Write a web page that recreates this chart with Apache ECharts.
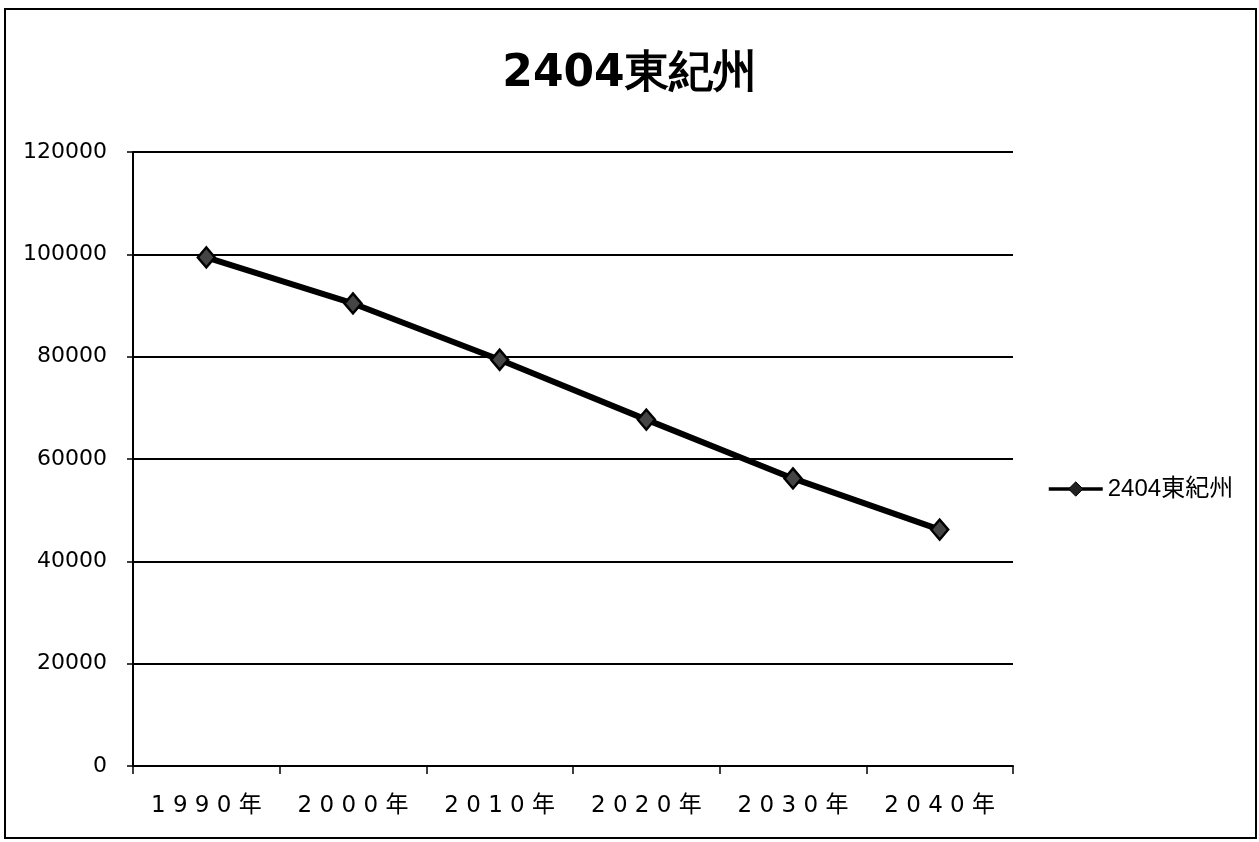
<!DOCTYPE html>
<html>
<head>
<meta charset="utf-8">
<script src="https://cdn.jsdelivr.net/npm/echarts@6/dist/echarts.min.js"></script>
<style>
html,body{margin:0;padding:0;background:#fff;}
#chart{width:1259px;height:842px;}
</style>
</head>
<body>
<div id="chart"></div>
<script>
const chartTitle = '2404東紀州';
const seriesName = '2404東紀州';
const categories = ['1990年', '2000年', '2010年', '2020年', '2030年', '2040年'];
const populationValues = [99400, 90400, 79400, 67700, 56200, 46200];
const yTicks = [0, 20000, 40000, 60000, 80000, 100000, 120000];

const chart = echarts.init(document.getElementById('chart'), null, {renderer: 'canvas'});
chart.setOption({
  backgroundColor: '#fff',
  animation: false,
  title: {
    text: chartTitle,
    left: 'center',
    top: 48,
    textStyle: {fontFamily: 'DejaVu Sans', fontWeight: 'bold', fontSize: 44, color: '#000'}
  },
  legend: {
    data: [seriesName],
    orient: 'vertical',
    left: 1042,
    top: 472,
    itemWidth: 54,
    itemHeight: 18,
    itemGap: 6,
    textStyle: {fontFamily: 'Liberation Sans, Noto Sans CJK JP', fontSize: 24, color: '#000', padding: [0, 0, 0, 0]},
    lineStyle: {width: 3.5, color: '#000'},
    itemStyle: {color: '#222', borderColor: '#000', borderWidth: 1}
  },
  grid: {left: 133, right: 246, top: 152, bottom: 76, containLabel: false},
  xAxis: {
    type: 'category',
    data: categories,
    boundaryGap: true,
    axisLine: {show: true, lineStyle: {color: '#000', width: 2}},
    axisTick: {show: true, length: 8, lineStyle: {color: '#000', width: 1.5}},
    axisLabel: {
      margin: 29,
      color: '#000',
      fontFamily: 'DejaVu Sans, Noto Sans CJK JP',
      fontSize: 23,
      formatter: function (v) { return v.split('').join(' '); }
    },
    splitLine: {show: false}
  },
  yAxis: {
    type: 'value',
    min: yTicks[0],
    max: yTicks[yTicks.length - 1],
    interval: yTicks[1] - yTicks[0],
    axisLine: {show: true, lineStyle: {color: '#000', width: 2}},
    axisTick: {show: true, length: 6, lineStyle: {color: '#000', width: 1.5}},
    axisLabel: {
      margin: 26,
      color: '#000',
      fontFamily: 'DejaVu Sans',
      fontSize: 22,
      formatter: function (v) { return String(v); }
    },
    splitLine: {show: true, lineStyle: {color: '#000', width: 1.8}}
  },
  series: [{
    name: seriesName,
    type: 'line',
    data: populationValues,
    symbol: 'diamond',
    symbolSize: [17, 20],
    lineStyle: {color: '#000', width: 6},
    itemStyle: {color: '#444', borderColor: '#000', borderWidth: 2.5}
  }],
  graphic: [{
    type: 'rect',
    shape: {x: 5, y: 9, width: 1251, height: 829},
    style: {fill: 'none', stroke: '#000', lineWidth: 2},
    silent: true,
    z: 100
  }]
});
</script>
</body>
</html>
